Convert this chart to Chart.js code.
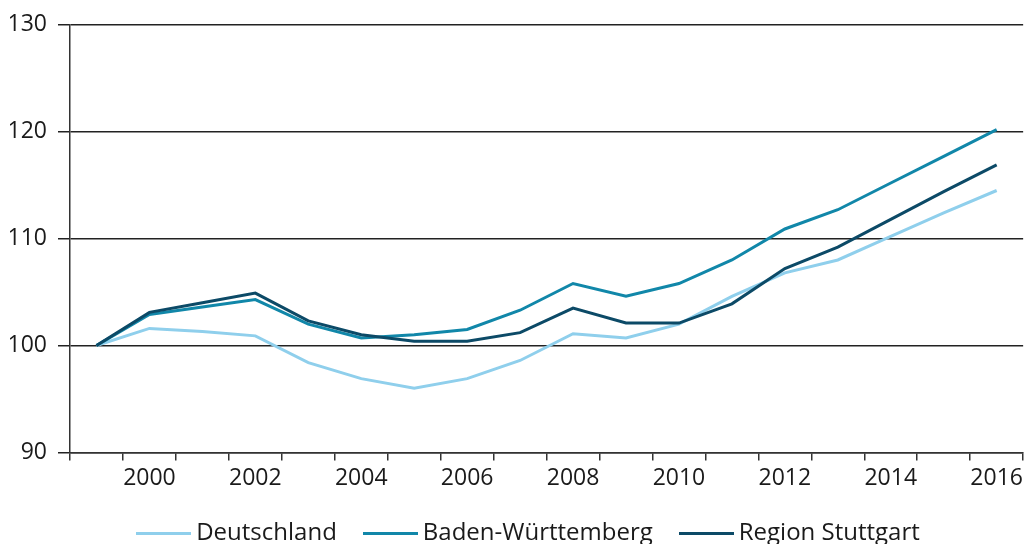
<!DOCTYPE html>
<html>
<head>
<meta charset="utf-8">
<script src="https://cdn.jsdelivr.net/npm/chart.js@4.4.0/dist/chart.umd.min.js"></script>
<style>
  html, body { margin: 0; padding: 0; background: #ffffff; overflow: hidden; }
  #wrap { position: relative; width: 1027px; height: 566px; }
</style>
</head>
<body>
<div id="wrap"><canvas id="c" width="1027" height="566"></canvas></div>
<script>
const years = ["1999","2000","2001","2002","2003","2004","2005","2006","2007","2008","2009","2010","2011","2012","2013","2014","2015","2016"];
const yTicks = [90, 100, 110, 120, 130];
const seriesNames = ["Deutschland", "Baden-Württemberg", "Region Stuttgart"];
const deutschland = [100, 101.6, 101.3, 100.9, 98.4, 96.9, 96.0, 96.9, 98.6, 101.1, 100.7, 102.0, 104.6, 106.8, 108.0, 110.2, 112.4, 114.5];
const badenWuerttemberg = [100, 102.9, 103.6, 104.3, 102.0, 100.7, 101.0, 101.5, 103.3, 105.8, 104.6, 105.8, 108.0, 110.9, 112.7, 115.2, 117.7, 120.2];
const regionStuttgart = [100, 103.1, 104.0, 104.9, 102.3, 101.0, 100.4, 100.4, 101.2, 103.5, 102.1, 102.1, 103.9, 107.2, 109.2, 111.8, 114.4, 116.9];

const colors = ["#8fcfec", "#1187a9", "#0c4a67"];
const FONT = "'Open Sans', 'DejaVu Sans', sans-serif";

function legendLine(color) {
  const cv = document.createElement('canvas');
  cv.width = 55; cv.height = 3;
  const g = cv.getContext('2d');
  g.fillStyle = color;
  g.fillRect(0, 0, 55, 3);
  return cv;
}

function ds(label, data, color, order) {
  return {
    label: label, data: data, borderColor: color, backgroundColor: color,
    borderWidth: 3, pointRadius: 0, pointHoverRadius: 0, tension: 0, fill: false, order: order,
    borderJoinStyle: 'miter', pointStyle: legendLine(color)
  };
}

const legendShift = {
  id: 'legendShift',
  afterLayout(chart) {
    const l = chart.legend;
    if (!l) return;
    l.left += 13.5; l.right += 13.5;
    l.top -= 8; l.bottom -= 8;
  }
};

new Chart(document.getElementById('c'), {
  type: 'line',
  data: {
    labels: years,
    datasets: [
      ds(seriesNames[0], deutschland, colors[0], 2),
      ds(seriesNames[1], badenWuerttemberg, colors[1], 1),
      ds(seriesNames[2], regionStuttgart, colors[2], 0)
    ]
  },
  plugins: [legendShift],
  options: {
    responsive: false,
    animation: false,
    layout: { padding: { left: 10, right: 1, top: 19, bottom: 3 } },
    plugins: {
      tooltip: { enabled: false },
      legend: {
        position: 'bottom',
        labels: {
          usePointStyle: true, pointStyleWidth: 41, boxHeight: 3, padding: 33,
          color: '#1a1a1a',
          font: { family: FONT, size: 24 },
          sort: (a, b) => a.datasetIndex - b.datasetIndex
        }
      }
    },
    scales: {
      x: {
        type: 'category',
        offset: true,
        grid: { display: true, drawOnChartArea: false, drawTicks: true, tickLength: 8, color: '#333333', lineWidth: 1.5, offset: true },
        border: { display: true, color: '#333333', width: 1.5 },
        ticks: {
          autoSkip: false, maxRotation: 0, padding: 4, color: '#1a1a1a',
          font: { family: FONT, size: 23 },
          callback: function(v, i) { const y = years[i]; return (parseInt(y) % 2 === 0) ? y : ''; }
        }
      },
      y: {
        min: 90, max: 130,
        afterBuildTicks: (axis) => { axis.ticks = yTicks.map(v => ({ value: v })); },
        afterFit: (axis) => { axis.width = 60; },
        grid: { color: '#222222', lineWidth: 1.5, drawTicks: true, tickLength: 12 },
        border: { display: true, color: '#333333', width: 1.5 },
        ticks: { padding: 11, color: '#1a1a1a', font: { family: FONT, size: 23 } }
      }
    }
  }
});
</script>
</body>
</html>
